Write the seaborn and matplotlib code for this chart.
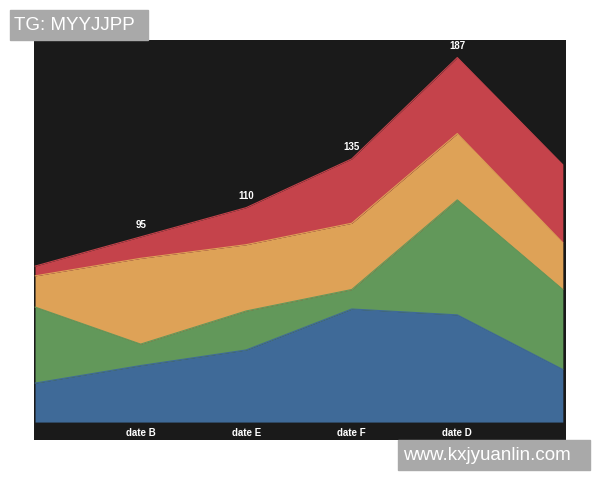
import numpy as np
import pandas as pd
import matplotlib
matplotlib.use("Agg")
import matplotlib.pyplot as plt
import seaborn as sns

# stacked layers (bottom -> top), six points, only the middle four are labelled
positions = [0, 1, 2, 3, 4, 5]
tick_pos = [1, 2, 3, 4]
tick_labels = ["date B", "date E", "date F", "date D"]
blue = [20, 29, 37, 58, 55, 27]
green = [39, 11, 20, 10, 59, 41]
orange = [16, 44, 34, 34, 34, 24]
red = [5, 11, 19, 33, 39, 40]
layer_names = ["blue", "green", "orange", "red"]
layer_colors = ["#3f6a98", "#62985a", "#dea257", "#c5434b"]

df = pd.DataFrame({"x": positions, "blue": blue, "green": green,
                   "orange": orange, "red": red})
stack = df[layer_names].cumsum(axis=1)
stack["x"] = df["x"]

sns.set_theme(style="dark")
plt.rcParams['font.family'] = ['Liberation Sans', 'DejaVu Sans']

fig = plt.figure(figsize=(6, 4.8), dpi=100, facecolor="white")
ax = fig.add_axes([34/600, 40/480, 532/600, 400/480])
ax.set_facecolor("#1a1a1a")

lower = np.zeros(len(positions))
for name, col in zip(layer_names, layer_colors):
    upper = stack[name].to_numpy()
    ax.fill_between(stack["x"], lower, upper, color=col, lw=0, zorder=2)
    sns.lineplot(data=stack, x="x", y=name, color=col, lw=0.8, ax=ax, zorder=3)
    lower = upper

# totals above the labelled dates
totals = stack["red"].to_numpy()
for p in tick_pos:
    ax.text(p, totals[p] + 3.5, str(int(totals[p])), color="white",
            fontsize=7, fontweight="bold", ha="center", va="bottom")

ax.set_xlim(-0.01, 5.03)
ax.set_ylim(-9.2, 196)
ax.set_xticks(tick_pos)
ax.set_xticklabels(tick_labels)
ax.set_yticks([])
ax.set_xlabel("")
ax.set_ylabel("")
ax.tick_params(axis="x", length=0, pad=-9, labelsize=7, colors="white")
for lab in ax.get_xticklabels():
    lab.set_fontweight("bold")
for s in ax.spines.values():
    s.set_visible(False)
ax.grid(False)

# watermark boxes
fig.patches.append(plt.Rectangle((10/600, 1 - 40/480), 138/600, 30/480,
                                 transform=fig.transFigure, color="#a9a9a9", zorder=5))
fig.text(14/600, 1 - 25/480, "TG: MYYJJPP", color="white", fontsize=13.5,
         va="center", ha="left", zorder=6)
fig.patches.append(plt.Rectangle((398/600, 1 - 470/480), 192/600, 30/480,
                                 transform=fig.transFigure, color="#a9a9a9", zorder=5))
fig.text(403/600, 1 - 455/480, "www.kxjyuanlin.com", color="white", fontsize=13.5,
         va="center", ha="left", zorder=6)

fig.savefig("out.png", dpi=100, facecolor="white")
